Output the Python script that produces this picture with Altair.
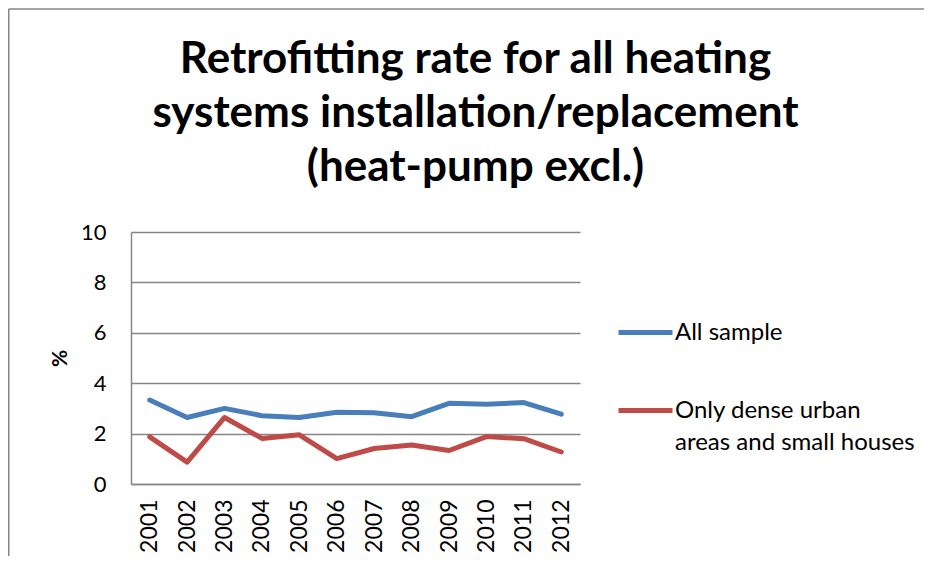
import altair as alt
import pandas as pd

years = [str(y) for y in range(2001, 2013)]
all_sample = [3.33, 2.64, 3.0, 2.71, 2.64, 2.85, 2.83, 2.67, 3.2, 3.16, 3.23, 2.77]
dense_urban = [1.87, 0.87, 2.64, 1.81, 1.95, 1.01, 1.41, 1.55, 1.33, 1.88, 1.80, 1.27]
series_names = ["All sample", "Only dense urban areas and small houses"]
series_colors = ["#4A7EBB", "#BE4B48"]
y_ticks = [0, 2, 4, 6, 8, 10]
title_lines = ["Retrofitting rate for all heating",
               "systems installation/replacement",
               "(heat-pump excl.)"]

rows = []
for name, vals in zip(series_names, [all_sample, dense_urban]):
    for yr, v in zip(years, vals):
        rows.append({"year": yr, "value": v, "series": name})
df = pd.DataFrame(rows)

FONT = "Lato"
GRAY = "#868686"

lines = alt.Chart(df).mark_line(strokeWidth=5, strokeCap="round", strokeJoin="round").encode(
    x=alt.X("year:O", sort=years,
            scale=alt.Scale(type="point", padding=0.5),
            axis=alt.Axis(title=None, labelAngle=270, ticks=False, grid=False,
                          domainColor=GRAY, domainWidth=1.5,
                          labelFont=FONT, labelFontSize=23, labelColor="#000000",
                          labelPadding=15)),
    y=alt.Y("value:Q", scale=alt.Scale(domain=[0, 10], nice=False, zero=True),
            axis=alt.Axis(title="%", values=y_ticks, ticks=False, grid=True,
                          gridColor=GRAY, gridWidth=1.5,
                          domainColor=GRAY, domainWidth=1.5,
                          labelFont=FONT, labelFontSize=22, labelColor="#000000",
                          labelPadding=25,
                          titleFont=FONT, titleFontSize=21, titleFontWeight="bold",
                          titleColor="#000000", titlePadding=10)),
    color=alt.Color("series:N", sort=series_names,
                    scale=alt.Scale(domain=series_names, range=series_colors),
                    legend=alt.Legend(title=None, orient="none", legendX=485, legendY=71,
                                      symbolType="stroke", symbolSize=2916,
                                      symbolStrokeWidth=5, labelOffset=0,
                                      labelFont=FONT, labelFontSize=24, labelColor="#000000",
                                      rowPadding=36, labelLimit=400,
                                      labelExpr="datum.label == 'Only dense urban areas and small houses' ? ['Only dense urban', 'areas and small houses'] : datum.label")),
)

frame_data = alt.Data(values=[{"k": 1}])
left_border = alt.Chart(frame_data).mark_rule(color=GRAY, strokeWidth=1.5, clip=False).encode(
    x=alt.value(-122.25), y=alt.value(-223), y2=alt.value(400))
top_border = alt.Chart(frame_data).mark_rule(color=GRAY, strokeWidth=1.5, clip=False).encode(
    x=alt.value(-122.25), x2=alt.value(900), y=alt.value(-223))

chart = alt.layer(lines, left_border, top_border).properties(
    width=449, height=252,
    autosize=alt.AutoSizeParams(type="none"),
    padding={"left": 123, "top": 224, "right": 344, "bottom": 72},
    title=alt.TitleParams(text=title_lines, font=FONT, fontSize=44, fontWeight="bold",
                          color="#000000", anchor="middle", frame="group",
                          dx=120, offset=0, dy=182, lineHeight=54),
).configure(
    style={"guide-label": {"lineHeight": 32}}
).configure_view(stroke=None)

chart.save("out.html", embed_options={"renderer": "svg", "actions": False})
